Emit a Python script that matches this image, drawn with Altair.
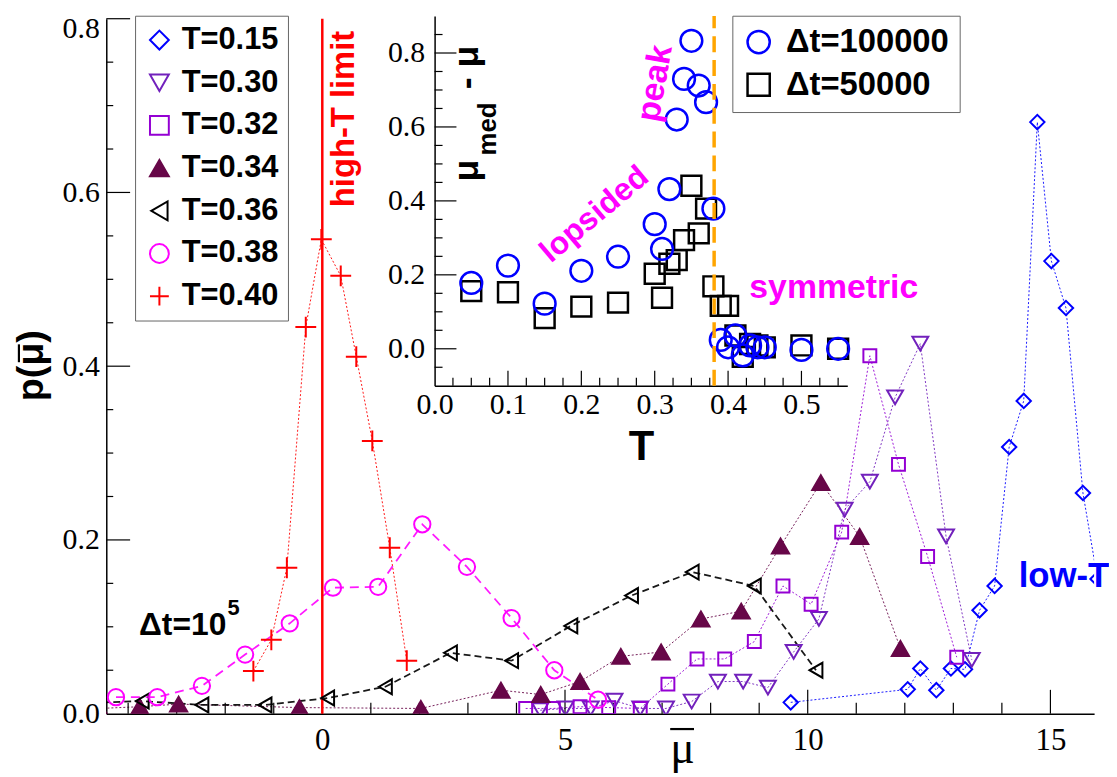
import altair as alt
import pandas as pd

# ---------------- main panel data ----------------
SERIES = ["T=0.15", "T=0.30", "T=0.32", "T=0.34", "T=0.36", "T=0.38", "T=0.40"]

x_015 = [9.65, 12.06, 12.32, 12.65, 12.95, 13.24, 13.54, 13.85, 14.15, 14.45, 14.73, 15.02, 15.32, 15.67, 15.97]
y_015 = [0.013, 0.028, 0.052, 0.027, 0.052, 0.051, 0.119, 0.147, 0.307, 0.360, 0.681, 0.521, 0.467, 0.254, 0.155]

x_030 = [4.49, 5.01, 5.53, 6.02, 6.55, 7.08, 7.61, 8.15, 8.67, 9.18, 9.71, 10.23, 10.76, 11.28, 11.80, 12.32, 12.85, 13.38]
y_030 = [0.004, 0.006, 0.006, 0.015, 0.006, 0.006, 0.014, 0.037, 0.037, 0.030, 0.071, 0.109, 0.235, 0.267, 0.364, 0.426, 0.204, 0.062]

x_032 = [4.19, 4.76, 5.31, 5.90, 6.55, 7.12, 7.72, 8.29, 8.90, 9.49, 10.07, 10.70, 11.28, 11.87, 12.47, 13.07]
y_032 = [0.006, 0.006, 0.008, 0.007, 0.006, 0.034, 0.063, 0.063, 0.083, 0.147, 0.126, 0.209, 0.412, 0.287, 0.181, 0.065]

x_034 = [-4.59, -3.76, -2.96, -0.47, 2.03, 3.68, 4.50, 5.31, 6.15, 6.98, 7.80, 8.63, 9.44, 10.27, 11.07, 11.91]
y_034 = [0.006, 0.008, 0.011, 0.007, 0.006, 0.027, 0.022, 0.037, 0.066, 0.071, 0.109, 0.118, 0.193, 0.266, 0.204, 0.075]

x_036 = [-4.98, -3.71, -2.48, -1.18, 0.11, 1.30, 2.64, 3.90, 5.12, 6.37, 7.62, 8.90, 10.17]
y_036 = [0.012, 0.0145, 0.010, 0.010, 0.018, 0.031, 0.070, 0.061, 0.101, 0.136, 0.163, 0.147, 0.050]

x_038 = [-4.25, -3.40, -2.48, -1.59, -0.67, 0.22, 1.15, 2.06, 2.98, 3.90, 4.78, 5.68]
y_038 = [0.019, 0.019, 0.032, 0.068, 0.104, 0.145, 0.146, 0.218, 0.169, 0.110, 0.050, 0.016]

x_040 = [-1.42, -1.05, -0.73, -0.34, -0.02, 0.38, 0.70, 1.03, 1.39, 1.74]
y_040 = [0.049, 0.085, 0.168, 0.445, 0.546, 0.504, 0.411, 0.314, 0.191, 0.061]

MAIN_X = [x_015, x_030, x_032, x_034, x_036, x_038, x_040]
MAIN_Y = [y_015, y_030, y_032, y_034, y_036, y_038, y_040]

# ---------------- inset data ----------------
T_inset = [0.05, 0.10, 0.15, 0.20, 0.25, 0.30, 0.31, 0.32, 0.33, 0.34, 0.35, 0.36,
           0.37, 0.38, 0.39, 0.40, 0.41, 0.42, 0.43, 0.44, 0.45, 0.50, 0.55]
d_100000 = [0.178, 0.225, 0.122, 0.211, 0.249, 0.337, 0.270, 0.432, 0.620, 0.730, 0.833, 0.712,
            0.667, 0.379, 0.024, 0.004, 0.036, -0.018, 0.009, 0.004, 0.004, -0.003, 0.0]
d_50000 = [0.156, 0.153, 0.083, 0.114, 0.125, 0.203, 0.138, 0.230, 0.240, 0.294, 0.441, 0.312,
           0.379, 0.169, 0.116, 0.116, 0.036, -0.022, 0.013, 0.009, 0.004, 0.009, 0.0]
INSET_SERIES = ["\u0394t=100000", "\u0394t=50000"]
T_transition = 0.381

# tick positions
main_x_major = [0, 5, 10, 15]
main_x_minor = [-4, -3, -2, -1, 1, 2, 3, 4, 6, 7, 8, 9, 11, 12, 13, 14]
main_y_major = [0.2, 0.4, 0.6, 0.8]
main_y_minor = [0.05, 0.1, 0.15, 0.25, 0.3, 0.35, 0.45, 0.5, 0.55, 0.65, 0.7, 0.75]
in_x_major = [0.1, 0.2, 0.3, 0.4, 0.5]
in_x_minor = [0.025, 0.05, 0.075, 0.125, 0.15, 0.175, 0.225, 0.25, 0.275, 0.325, 0.35,
              0.375, 0.425, 0.45, 0.475, 0.525, 0.55]
in_y_major = [0.0, 0.2, 0.4, 0.6, 0.8]
in_y_minor = [-0.05, 0.05, 0.1, 0.15, 0.25, 0.3, 0.35, 0.45, 0.5, 0.55, 0.65, 0.7, 0.75, 0.85]

# ---------------- styles ----------------
main_colors = ["#0000ff", "#7221bc", "#9400d3", "#670748", "#000000", "#ff00ff", "#ff0000"]
main_shapes = ["diamond", "triangle-down", "square", "triangle-up", "triangle-left", "circle",
               "M-1,0L1,0M0,-1L0,1"]
main_fills = ["transparent", "transparent", "transparent", "#670748", "transparent",
              "transparent", "transparent"]
main_sizes = [210, 256, 169, 300, 225, 270, 441]
main_dash = [[2, 2], [2, 2], [2, 2], [2, 2], [7, 4], [9, 6], [2, 2]]
main_lw = [1.0, 1.0, 1.0, 1.0, 1.8, 1.8, 1.0]

PAD_L, PAD_T = 99, 8
W, H = 995, 700
X_DOM = [-4.45, 15.9]
Y_DOM = [0, 0.8]
PLOT_L = 8 + PAD_L           # page x of the plot's left edge
PLOT_TOP = 8 + PAD_T         # page y of the plot's top edge
PLOT_B = PLOT_TOP + H        # page y of the plot's bottom edge
IX0, IX1 = 437.7 - PLOT_L, 853.4 - PLOT_L    # inset x pixel range inside the plot
IY0, IY1 = 385.7 - PLOT_TOP, 13.3 - PLOT_TOP  # inset y pixel range inside the plot

SANS = "Liberation Sans"
SERIF = "Liberation Serif"


def px2x(px):
    return X_DOM[0] + (px - PLOT_L) * (X_DOM[1] - X_DOM[0]) / W


def py2y(py):
    return (PLOT_B - py) * (Y_DOM[1] - Y_DOM[0]) / H


xs_main = alt.Scale(domain=X_DOM, nice=False, zero=False)
ys_main = alt.Scale(domain=Y_DOM, nice=False, zero=False)
xs_in = alt.Scale(domain=[0, 0.5625], range=[IX0, IX1], nice=False, zero=False)
ys_in = alt.Scale(domain=[-0.1, 0.9], range=[IY0, IY1], nice=False, zero=False)

main_x_axis = alt.Axis(values=main_x_major, format="d", ticks=False, tickSize=0, grid=False,
                       domainColor="black", domainWidth=1.5, labelFont=SERIF, labelFontSize=31,
                       labelColor="black", labelPadding=12, labelFlush=False, labelOverlap=False,
                       title="\u03bc", titleFont=SERIF, titleFontSize=46, titleFontWeight="normal",
                       titleColor="black", titleX=580, titleY=49, titleBaseline="alphabetic",
                       titleAlign="center")
main_y_axis = alt.Axis(values=[0.0] + main_y_major, format=".1f", ticks=False, tickSize=0, grid=False,
                       domainColor="black", domainWidth=1.5, labelFont=SERIF, labelFontSize=30,
                       labelColor="black", labelPadding=7, labelOverlap=False,
                       labelOffset=alt.condition("datum.value > 0.75", alt.value(10), alt.value(0)),
                       title="p(\u03bc)", titleFont=SANS, titleFontSize=38, titleFontWeight="bold",
                       titleColor="black", titleAngle=270, titleX=-75, titleY=365 - PLOT_TOP,
                       titleBaseline="middle", titleAlign="center")
in_x_axis = alt.Axis(orient="bottom", offset=IY0 - H, values=[0.0] + in_x_major, format=".1f",
                     ticks=False, tickSize=0, grid=False, domainColor="black", domainWidth=1.5,
                     labelFont=SERIF, labelFontSize=30, labelColor="black", labelPadding=4,
                     labelFlush=False, labelOverlap=False,
                     title="T", titleFont=SANS, titleFontSize=42, titleFontWeight="bold",
                     titleColor="black", titleX=(IX0 + IX1) / 2, titleY=74,
                     titleBaseline="alphabetic", titleAlign="center")
in_y_axis = alt.Axis(orient="left", offset=-IX0, values=in_y_major, format=".1f",
                     ticks=False, tickSize=0, grid=False, domainColor="black", domainWidth=1.5,
                     labelFont=SERIF, labelFontSize=30, labelColor="black", labelPadding=10,
                     labelOverlap=False, title="")

main_legend = alt.Legend(title=None, orient="none", legendX=29, legendY=13 - PLOT_TOP,
                         labelFont=SANS, labelFontSize=31, labelFontWeight="bold", labelColor="black",
                         labelLimit=300, symbolSize=360, symbolStrokeWidth=2, padding=9,
                         rowPadding=11, labelOffset=7, strokeColor="#666666", fillColor="white")
in_legend = alt.Legend(title=None, orient="none", legendX=630.6, legendY=13 - PLOT_TOP,
                       labelFont=SANS, labelFontSize=33, labelFontWeight="bold", labelColor="black",
                       labelLimit=400, symbolSize=500, symbolStrokeWidth=2.5, padding=10,
                       rowPadding=9, labelOffset=11, strokeColor="#666666", fillColor="white")

stroke_main = alt.Scale(domain=SERIES, range=main_colors)
fill_main = alt.Scale(domain=SERIES, range=main_fills)
shape_main = alt.Scale(domain=SERIES, range=main_shapes)


def xticks(vals, scale, ybase, length):
    return alt.Chart(pd.DataFrame({"v": vals})).mark_rule(color="black", strokeWidth=1.2).encode(
        x=alt.X("v:Q", scale=scale),
        y=alt.value(ybase), y2=alt.value(ybase - length))


def yticks(vals, scale, xbase, length):
    return alt.Chart(pd.DataFrame({"v": vals})).mark_rule(color="black", strokeWidth=1.2).encode(
        y=alt.Y("v:Q", scale=scale),
        x=alt.value(xbase), x2=alt.value(xbase + length))


def label(txt, x, y, **kw):
    return alt.Chart(pd.DataFrame({"t": [txt]})).mark_text(font=SANS, fontWeight="bold", **kw).encode(
        x=alt.datum(x), y=alt.datum(y), text="t:N")


def bar(x1, x2, y1, y2):
    # the overbar of the mu in the axis titles
    return alt.Chart(pd.DataFrame({"k": [0]})).mark_rule(color="black", strokeWidth=2.2).encode(
        x=alt.datum(x1), x2=alt.datum(x2), y=alt.datum(y1), y2=alt.datum(y2))


# ---------------- main layers ----------------
frames = []
for name, xv, yv in zip(SERIES, MAIN_X, MAIN_Y):
    frames.append(pd.DataFrame({"x": xv, "y": yv, "T": name}))

main_layers = []
for i, df in enumerate(frames):
    first = (i == 0)
    enc_x = alt.X("x:Q", scale=xs_main, axis=main_x_axis) if first else alt.X("x:Q", scale=xs_main)
    enc_y = alt.Y("y:Q", scale=ys_main, axis=main_y_axis) if first else alt.Y("y:Q", scale=ys_main)
    main_layers.append(
        alt.Chart(df).mark_line(color=main_colors[i], strokeWidth=main_lw[i],
                                strokeDash=main_dash[i], clip=True, opacity=0.9).encode(
            x=enc_x, y=enc_y)
    )

main_layers += [
    xticks(main_x_minor, xs_main, H, 11),
    xticks(main_x_major, xs_main, H, 24),
    yticks(main_y_minor, ys_main, 0, 7),
    yticks(main_y_major, ys_main, 0, 24),
]

main_layers.append(
    alt.Chart(pd.DataFrame({"x": [0]})).mark_rule(color="#ff0000", strokeWidth=2.5).encode(
        x=alt.X("x:Q", scale=xs_main))
)

for i, df in enumerate(frames):
    main_layers.append(
        alt.Chart(df).mark_point(size=main_sizes[i], filled=False, opacity=1,
                                 strokeWidth=2, clip=True).encode(
            x=alt.X("x:Q", scale=xs_main),
            y=alt.Y("y:Q", scale=ys_main),
            stroke=alt.Stroke("T:N", scale=stroke_main, legend=main_legend),
            fill=alt.Fill("T:N", scale=fill_main, legend=main_legend),
            shape=alt.Shape("T:N", scale=shape_main, legend=main_legend),
        )
    )

main_layers += [
    label("high-T limit", 0.44, py2y(117), fontSize=33, color="#ff0000", angle=270,
          align="center", baseline="middle"),
    label("\u0394t=10", px2x(140), py2y(637), fontSize=32, color="black", align="left",
          baseline="alphabetic"),
    label("5", px2x(229), py2y(617), fontSize=22, color="black", align="left",
          baseline="alphabetic"),
    label("low-T", px2x(1026), py2y(588), fontSize=35, color="#0000ff", align="left",
          baseline="alphabetic"),
    bar(px2x(675), px2x(699), py2y(731.5), py2y(731.5)),
    bar(px2x(19), px2x(19), py2y(344), py2y(362)),
]

main = alt.layer(*main_layers)

# ---------------- inset layers ----------------
in_df1 = pd.DataFrame({"T": T_inset, "d": d_100000, "dt": INSET_SERIES[0]})
in_df2 = pd.DataFrame({"T": T_inset, "d": d_50000, "dt": INSET_SERIES[1]})
stroke_in = alt.Scale(domain=INSET_SERIES, range=["#0000ff", "#000000"])
shape_in = alt.Scale(domain=INSET_SERIES, range=["circle", "square"])

inset_layers = [
    alt.Chart(in_df2).mark_point(size=400, filled=False, opacity=1, strokeWidth=2.5).encode(
        x=alt.X("T:Q", scale=xs_in, axis=in_x_axis),
        y=alt.Y("d:Q", scale=ys_in, axis=in_y_axis),
        stroke=alt.Stroke("dt:N", scale=stroke_in, legend=in_legend),
        shape=alt.Shape("dt:N", scale=shape_in, legend=in_legend),
    ),
    alt.Chart(in_df1).mark_point(size=480, filled=False, opacity=1, strokeWidth=2.5).encode(
        x=alt.X("T:Q", scale=xs_in),
        y=alt.Y("d:Q", scale=ys_in),
        stroke=alt.Stroke("dt:N", scale=stroke_in, legend=in_legend),
        shape=alt.Shape("dt:N", scale=shape_in, legend=in_legend),
    ),
    xticks(in_x_minor, xs_in, IY0, 8),
    xticks(in_x_major, xs_in, IY0, 15),
    yticks(in_y_minor, ys_in, IX0, 8),
    yticks(in_y_major, ys_in, IX0, 22),
    alt.Chart(pd.DataFrame({"T": [T_transition]})).mark_rule(
        color="#ffa500", strokeWidth=3.5, strokeDash=[16, 8]).encode(
        x=alt.X("T:Q", scale=xs_in),
        y=alt.datum(-0.1), y2=alt.datum(0.9)),
    label("\u03bc", 0.0586, 0.4525, fontSize=36, color="black", angle=270, align="left",
          baseline="alphabetic"),
    label("med", 0.0843, 0.523, fontSize=26, color="black", angle=270, align="left",
          baseline="alphabetic"),
    label("- \u03bc", 0.0586, 0.702, fontSize=36, color="black", angle=270, align="left",
          baseline="alphabetic"),
    label("peak", 0.301, 0.718, fontSize=34, color="#ff00ff", angle=280, align="center",
          baseline="middle"),
    label("lopsided", 0.2176, 0.364, fontSize=32, color="#ff00ff", angle=320, align="center",
          baseline="middle"),
    label("symmetric", 0.429, 0.136, fontSize=34, color="#ff00ff", align="left",
          baseline="alphabetic"),
]

inset = alt.layer(*inset_layers)

chart = alt.layer(main, inset).resolve_scale(
    x="independent", y="independent", stroke="independent", shape="independent",
    fill="independent"
).resolve_axis(
    x="independent", y="independent"
).resolve_legend(
    stroke="independent", shape="independent", fill="independent"
).properties(
    width=W, height=H,
    padding={"left": PAD_L, "top": PAD_T, "right": 15, "bottom": 777 - 8 - PAD_T - H},
    autosize=alt.AutoSizeParams(type="none"),
    background="white",
).configure_view(stroke=None)

chart.save("out.html", embed_options={"renderer": "svg", "actions": False})
